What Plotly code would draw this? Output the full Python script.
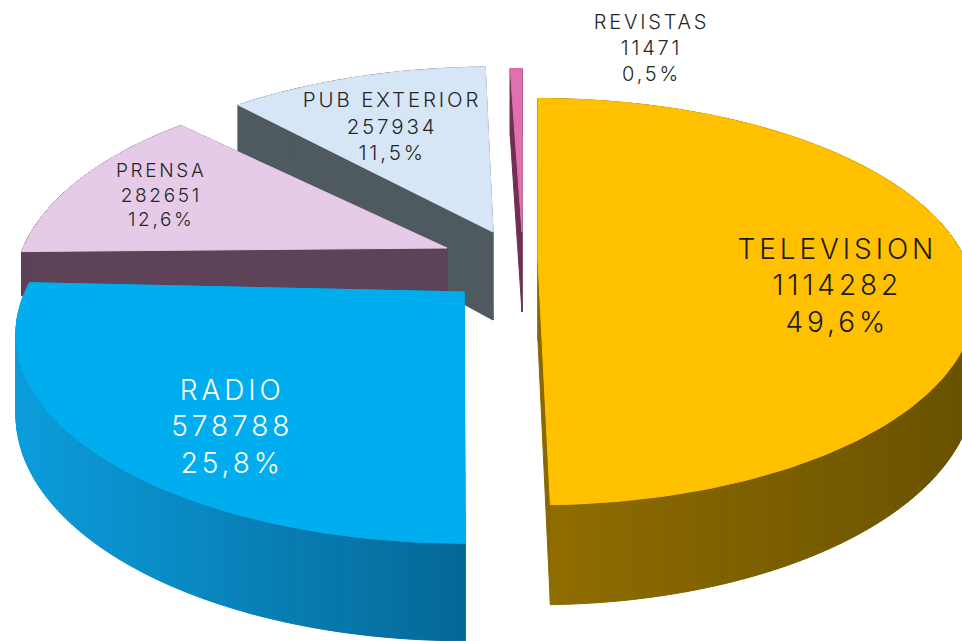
import math
import plotly.graph_objects as go

# ---- data ----
categories = ["TELEVISION", "RADIO", "PRENSA", "PUB EXTERIOR", "REVISTAS"]
values = [1114282, 578788, 282651, 257934, 11471]
percents = ["49,6%", "25,8%", "12,6%", "11,5%", "0,5%"]

# ---- drawing set-up (not data) ----
W, H = 962, 641
K = 0.2          # perspective strength
START = 0.0      # first slice start angle, clockwise from 12 o'clock
geom = {  # apex x, apex y, Rx, Ry, rotation tweak, thickness
    "TELEVISION":   dict(ax=538, ay=261, rx=428, ry=195, rot=0.0, d=80),
    "RADIO":        dict(ax=464, ay=292, rx=439, ry=201, rot=1.2, d=78),
    "PRENSA":       dict(ax=447, ay=248, rx=424, ry=200, rot=-2.5, d=44),
    "PUB EXTERIOR": dict(ax=493, ay=232, rx=432, ry=198, rot=0.6, d=88),
    "REVISTAS":     dict(ax=522, ay=232, rx=440, ry=196, rot=0.0, d=80),
}
top_colors = {"TELEVISION": "#ffc000", "RADIO": "#00aeef", "PRENSA": "#e6cbe8",
              "PUB EXTERIOR": "#d6e6f6", "REVISTAS": "#e070b0"}
# wall gradient: colour at the left end of the screen to the right end
wall_colors = {"TELEVISION": ((0x8f, 0x6d, 0x00), (0x6a, 0x52, 0x00)),
               "RADIO": ((0x0c, 0x9c, 0xdc), (0x05, 0x68, 0x96)),
               "PRENSA": ((0x5e, 0x42, 0x58), (0x5e, 0x42, 0x58)),
               "PUB EXTERIOR": ((0x4f, 0x5a, 0x60), (0x4f, 0x5a, 0x60)),
               "REVISTAS": ((0x70, 0x30, 0x50), (0x70, 0x30, 0x50))}
label_pos = {"TELEVISION": (837, 285, 28, "#1c1c1c"), "RADIO": (232, 426, 28, "#ffffff"),
             "PRENSA": (161, 195, 19, "#262626"), "PUB EXTERIOR": (392, 126, 20.5, "#262626"),
             "REVISTAS": (651, 48, 20, "#262626")}
draw_order = ["PUB EXTERIOR", "REVISTAS", "PRENSA", "TELEVISION", "RADIO"]


def project(g, theta, r=1.0, z=0.0):
    u, v = r * math.sin(theta), r * math.cos(theta)
    s = 1 / (1 + K * v)
    return g["ax"] + g["rx"] * u * s, g["ay"] - g["ry"] * v * s + z * s


def poly(fig, pts, color):
    xs = [p[0] for p in pts] + [pts[0][0]]
    ys = [p[1] for p in pts] + [pts[0][1]]
    fig.add_trace(go.Scatter(x=xs, y=ys, mode="lines", fill="toself", fillcolor=color,
                             line=dict(color=color, width=1), hoverinfo="skip",
                             showlegend=False))


def mix(c0, c1, t):
    return "rgb(%d,%d,%d)" % tuple(round(a + (b - a) * t) for a, b in zip(c0, c1))


total = sum(values)
spans = {}
a = START
for name, val in zip(categories, values):
    span = 360.0 * val / total
    spans[name] = (a, a + span)
    a += span

fig = go.Figure()
for name in draw_order:
    g = geom[name]
    d = g["d"]
    t0 = math.radians(spans[name][0] + g["rot"])
    t1 = math.radians(spans[name][1] + g["rot"])
    n = max(2, int(abs(t1 - t0) / math.radians(1)))
    thetas = [t0 + (t1 - t0) * i / n for i in range(n + 1)]
    c0, c1 = wall_colors[name]
    # flat inner faces
    for th in (t0, t1):
        poly(fig, [project(g, th), project(g, 0, 0), project(g, 0, 0, d), project(g, th, 1, d)],
             mix(c0, c1, 0.2))
    # curved wall as colour strips
    for i in range(n):
        p = project(g, thetas[i])
        q = project(g, thetas[i + 1])
        mid = (p[0] + q[0]) / 2
        if name == "RADIO":
            tt = (mid - 20) / 445
        elif name == "TELEVISION":
            tt = (mid - 550) / 410
        else:
            tt = 0
        tt = min(1, max(0, tt))
        poly(fig, [p, q, project(g, thetas[i + 1], 1, d), project(g, thetas[i], 1, d)], mix(c0, c1, tt))
    # top surface
    poly(fig, [project(g, 0, 0)] + [project(g, th) for th in thetas], top_colors[name])

for name, val, pct in zip(categories, values, percents):
    x, y, size, color = label_pos[name]
    fig.add_annotation(x=x, y=y, xref="x", yref="y", text=f"{name}<br>{val}<br>{pct}",
                       showarrow=False, align="center",
                       font=dict(family="Inter, Liberation Sans, sans-serif", size=size,
                                 color=color, weight=300))

fig.update_xaxes(range=[0, W], visible=False, fixedrange=True)
fig.update_yaxes(range=[H, 0], visible=False, fixedrange=True)
fig.update_layout(width=W, height=H, margin=dict(l=0, r=0, t=0, b=0),
                  paper_bgcolor="white", plot_bgcolor="white", showlegend=False)
fig.write_html("out.html",
               post_script="document.body.style.margin='0';"
                           "document.querySelectorAll('.annotation-text').forEach(function(e){"
                           "e.style.letterSpacing='0.14em';});",
               config={"displayModeBar": False})
